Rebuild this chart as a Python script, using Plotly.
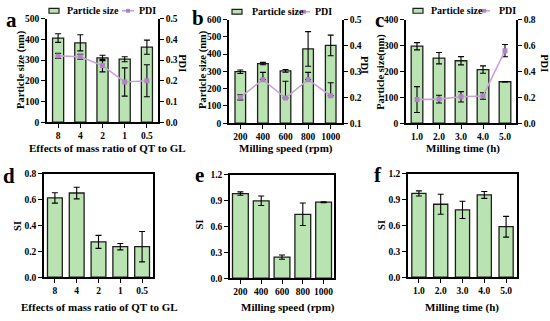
import plotly.graph_objects as go

# ---------------- data ----------------
ratio_cats = ["8", "4", "2", "1", "0.5"]
speed_cats = ["200", "400", "600", "800", "1000"]
time_cats = ["1.0", "2.0", "3.0", "4.0", "5.0"]

# panel a
a_size = [406, 383, 310, 304, 362]
a_size_err = [21, 39, 13, 12, 34]
a_pdi = [0.320, 0.316, 0.273, 0.194, 0.200]
a_pdi_err = [0.012, 0.012, 0.030, 0.068, 0.077]

# panel b
b_size = [298, 345, 303, 430, 450]
b_size_err = [10, 7, 8, 100, 60]
b_pdi = [0.200, 0.268, 0.197, 0.268, 0.206]
b_pdi_err_up = [0.010, 0.028, 0.065, 0.028, 0.050]
b_pdi_err_dn = [0.010, 0.0, 0.0, 0.0, 0.0]

# panel c
c_size = [297, 251, 241, 207, 160]
c_size_err = [14, 22, 16, 14, 1]
c_pdi = [0.182, 0.186, 0.204, 0.210, 0.560]
c_pdi_err = [0.100, 0.030, 0.040, 0.025, 0.047]

# panels d, e, f (SI)
d_si = [0.612, 0.650, 0.273, 0.236, 0.236]
d_si_err = [0.040, 0.045, 0.050, 0.025, 0.117]
e_si = [0.980, 0.896, 0.244, 0.740, 0.880]
e_si_err = [0.020, 0.055, 0.025, 0.130, 0.005]
f_si = [0.970, 0.845, 0.780, 0.953, 0.585]
f_si_err = [0.030, 0.115, 0.100, 0.040, 0.120]

# ---------------- style ----------------
W, H = 550, 321
FONT = "Liberation Serif"
BAR_FILL = "#b9e3b1"
BAR_LINE = "#1e1e1e"
PDI_LINE = "#c9a3d6"
PDI_MARK = "#b084c4"


def px_x(p):
    return p / W


def px_y(p):
    return 1 - p / H


fig = go.Figure()

# domains (pixels)
panels = {
    "a": dict(x=(47, 158), y=(14, 121)),
    "b": dict(x=(229, 342), y=(15, 122)),
    "c": dict(x=(406, 516), y=(15, 122)),
    "d": dict(x=(44, 153), y=(174, 281)),
    "e": dict(x=(230, 334), y=(175, 282)),
    "f": dict(x=(408, 517), y=(174, 281)),
}


def dom(p):
    d = panels[p]
    return [px_x(d["x"][0]), px_x(d["x"][1])], [px_y(d["y"][1]), px_y(d["y"][0])]


tickfont = dict(family=FONT, size=9.5, color="black", weight="bold")
axis_common = dict(
    showline=True, linecolor="black", linewidth=1.6,
    ticks="outside", ticklen=4, tickwidth=1.4, tickcolor="black",
    showgrid=False, zeroline=False, tickfont=tickfont,
)


def bar_trace(cats, vals, errs, xa, ya, width):
    return go.Bar(
        x=cats, y=vals, xaxis=xa, yaxis=ya, width=width,
        marker=dict(color=BAR_FILL, line=dict(color=BAR_LINE, width=1.3)),
        error_y=dict(type="data", array=errs, color="black", thickness=1.1, width=3),
        showlegend=False,
    )


def pdi_trace(cats, vals, up, dn, xa, ya):
    return go.Scatter(
        x=cats, y=vals, xaxis=xa, yaxis=ya, mode="lines+markers",
        line=dict(color=PDI_LINE, width=1.6),
        marker=dict(symbol="square", size=5, color=PDI_MARK),
        error_y=dict(type="data", array=up, arrayminus=dn, symmetric=False,
                     color="black", thickness=1.1, width=3),
        showlegend=False,
    )


# top row
fig.add_trace(bar_trace(ratio_cats, a_size, a_size_err, "x", "y", 0.5))
fig.add_trace(pdi_trace(ratio_cats, a_pdi, a_pdi_err, a_pdi_err, "x", "y2"))
fig.add_trace(bar_trace(speed_cats, b_size, b_size_err, "x2", "y3", 0.47))
fig.add_trace(pdi_trace(speed_cats, b_pdi, b_pdi_err_up, b_pdi_err_dn, "x2", "y4"))
fig.add_trace(bar_trace(time_cats, c_size, c_size_err, "x3", "y5", 0.53))
fig.add_trace(pdi_trace(time_cats, c_pdi, c_pdi_err, c_pdi_err, "x3", "y6"))
# bottom row
fig.add_trace(bar_trace(ratio_cats, d_si, d_si_err, "x4", "y7", 0.68))
fig.add_trace(bar_trace(speed_cats, e_si, e_si_err, "x5", "y8", 0.76))
fig.add_trace(bar_trace(time_cats, f_si, f_si_err, "x6", "y9", 0.65))

layout = dict(
    width=W, height=H, margin=dict(l=0, r=0, t=0, b=0),
    paper_bgcolor="white", plot_bgcolor="white",
    font=dict(family=FONT, color="black"),
    showlegend=False,
)

top_axes = [("a", "x", "y", "y2", [0, 500], 100, [0, 0.5], 0.1),
            ("b", "x2", "y3", "y4", [0, 600], 100, [0.1, 0.5], 0.1),
            ("c", "x3", "y5", "y6", [0, 400], 100, [0, 0.8], 0.2)]
for p, xa, ya, ya2, r1, d1, r2, d2 in top_axes:
    xd, yd = dom(p)
    xk = "xaxis" + xa[1:]
    yk = "yaxis" + ya[1:]
    y2k = "yaxis" + ya2[1:]
    layout[xk] = dict(domain=xd, anchor=ya, range=[-0.5, 4.5], type="category", **axis_common)
    layout[yk] = dict(domain=yd, anchor=xa, range=r1, dtick=d1, tick0=0, **axis_common)
    layout[y2k] = dict(overlaying=ya, side="right", anchor=xa, range=r2, dtick=d2,
                       tick0=0, tickformat=".1f", **axis_common)

bot_axes = [("d", "x4", "y7", [0, 0.8], 0.2),
            ("e", "x5", "y8", [0, 1.2], 0.3),
            ("f", "x6", "y9", [0, 1.2], 0.3)]
for p, xa, ya, r, d in bot_axes:
    xd, yd = dom(p)
    xk = "xaxis" + xa[1:]
    yk = "yaxis" + ya[1:]
    layout[xk] = dict(domain=xd, anchor=ya, range=[-0.5, 4.5], type="category",
                      mirror=True, **axis_common)
    layout[yk] = dict(domain=yd, anchor=xa, range=r, dtick=d, tick0=0, tickformat=".1f",
                      mirror=True, **axis_common)

fig.update_layout(**layout)

ann = []


def text(x, y, s, size=11, angle=0):
    ann.append(dict(x=px_x(x), y=px_y(y), xref="paper", yref="paper", text=s,
                    showarrow=False, textangle=angle, xanchor="center", yanchor="middle",
                    font=dict(family=FONT, size=size, color="black", weight="bold")))


# panel letters
for s, x, y in [("a", 11, 15), ("b", 198, 13), ("c", 379, 15),
                ("d", 9, 176), ("e", 199, 175), ("f", 378, 175)]:
    text(x, y, s, size=21)

# axis titles
text(107, 148, "Effects of mass ratio of QT to GL")
text(286, 148, "Milling speed (rpm)")
text(463, 148, "Milling time (h)")
text(99, 312, "Effects of mass ratio of QT to GL")
text(288, 312, "Milling speed (rpm)")
text(462, 312, "Milling time (h)")
text(21, 67, "Particle size (nm)", size=10.5, angle=-90)
text(203, 67, "Particle size (nm)", size=10.5, angle=-90)
text(381, 69, "Particle size(nm)", size=10.5, angle=-90)
text(183, 60, "PDI", size=10.5, angle=90)
text(365, 62, "PDI", size=10.5, angle=90)
text(545, 60, "PDI", size=10.5, angle=90)
text(18, 228, "SI", size=10.5, angle=-90)
text(199.5, 227, "SI", size=10.5, angle=-90)
text(382, 227, "SI", size=10.5, angle=-90)

# legends (per top panel)
shapes = []
for bx, tx, lx, ptx, ly in [(49, 65, 122, 137, 6), (232, 250, 298, 313, 7), (413, 429, 478, 497, 6)]:
    shapes.append(dict(type="rect", xref="paper", yref="paper",
                       x0=px_x(bx), x1=px_x(bx + 10), y0=px_y(ly + 2.5), y1=px_y(ly - 2.5),
                       fillcolor=BAR_FILL, line=dict(color=BAR_LINE, width=1.2)))
    shapes.append(dict(type="line", xref="paper", yref="paper",
                       x0=px_x(lx), x1=px_x(lx + 12), y0=px_y(ly), y1=px_y(ly),
                       line=dict(color=PDI_LINE, width=1.6)))
    shapes.append(dict(type="rect", xref="paper", yref="paper",
                       x0=px_x(lx + 4), x1=px_x(lx + 8), y0=px_y(ly + 2), y1=px_y(ly - 2),
                       fillcolor=PDI_MARK, line=dict(width=0)))
    ann.append(dict(x=px_x(tx), y=px_y(ly), xref="paper", yref="paper", text="Particle size",
                    showarrow=False, xanchor="left", yanchor="middle",
                    font=dict(family=FONT, size=10, color="black", weight="bold")))
    ann.append(dict(x=px_x(ptx), y=px_y(ly), xref="paper", yref="paper", text="PDI",
                    showarrow=False, xanchor="left", yanchor="middle",
                    font=dict(family=FONT, size=10, color="black", weight="bold")))

fig.update_layout(annotations=ann, shapes=shapes)
fig.write_html("out.html", config={"displayModeBar": False},
               post_script="document.body.style.margin='0';document.body.style.padding='0';")
